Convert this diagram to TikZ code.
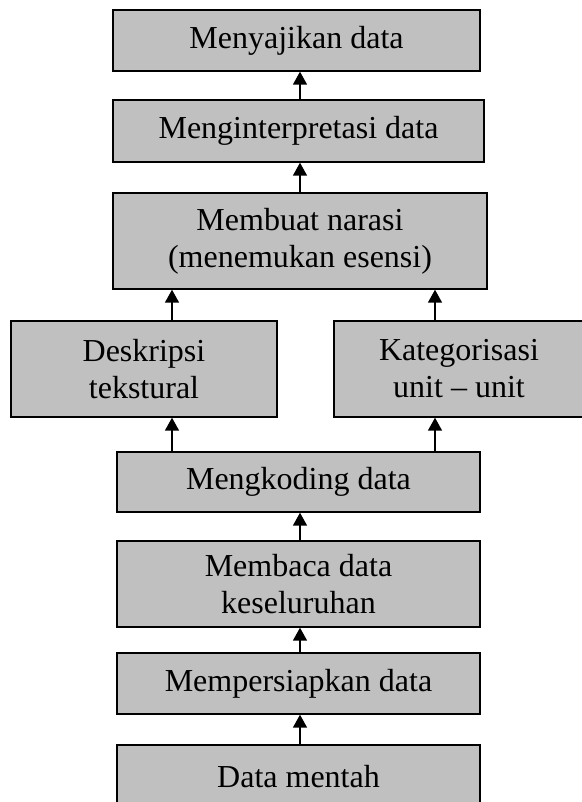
\documentclass[tikz,border=0pt]{standalone}
\usepackage{fontspec}
\setmainfont{Liberation Serif}
\usetikzlibrary{arrows.meta}

\tikzset{
  box/.style={draw=black,line width=1.4pt,fill={rgb,255:red,192;green,192;blue,192},
    align=center,inner sep=0pt,font=\fontsize{32}{37}\selectfont},
  up/.style={line width=1.6pt,-{Triangle[length=13pt,width=14pt]}}
}

\begin{document}
\begin{tikzpicture}[x=1pt,y=-1pt]
  \useasboundingbox (0,0) rectangle (581,802);

  \node[box,minimum width=367pt,minimum height=61pt] (present data) at (296.5,40.5) {Menyajikan data};
  \node[box,minimum width=371pt,minimum height=62pt] (interpret data) at (298.5,131) {Menginterpretasi data};
  \node[box,minimum width=374pt,minimum height=96pt] (narrate data) at (300,241) {Membuat narasi\\(menemukan esensi)};
  \node[box,minimum width=266pt,minimum height=96pt] (describe data) at (144,369) {Deskripsi\\tekstural};
  \node[box,minimum width=250pt,minimum height=96pt] (categorise data) at (459,369) {Kategorisasi\\unit -- unit};
  \node[box,minimum width=363pt,minimum height=60pt] (code data) at (298.5,482) {Mengkoding data};
  \node[box,minimum width=363pt,minimum height=86pt] (read data) at (298.5,584) {Membaca data\\keseluruhan};
  \node[box,minimum width=363pt,minimum height=61pt] (prepare data) at (298.5,683.5) {Mempersiapkan data};
  \node[box,minimum width=363pt,minimum height=64pt] (raw data) at (298.5,777) {Data mentah};

  \coordinate (left branch) at (172,0);
  \coordinate (right branch) at (435,0);
  \coordinate (trunk) at (300,0);

  \draw[up] (raw data.north -| trunk) -- (prepare data.south -| trunk);
  \draw[up] (prepare data.north -| trunk) -- (read data.south -| trunk);
  \draw[up] (read data.north -| trunk) -- (code data.south -| trunk);
  \draw[up] (code data.north -| left branch) -- (describe data.south -| left branch);
  \draw[up] (code data.north -| right branch) -- (categorise data.south -| right branch);
  \draw[up] (describe data.north -| left branch) -- (narrate data.south -| left branch);
  \draw[up] (categorise data.north -| right branch) -- (narrate data.south -| right branch);
  \draw[up] (narrate data.north -| trunk) -- (interpret data.south -| trunk);
  \draw[up] (interpret data.north -| trunk) -- (present data.south -| trunk);
\end{tikzpicture}
\end{document}
